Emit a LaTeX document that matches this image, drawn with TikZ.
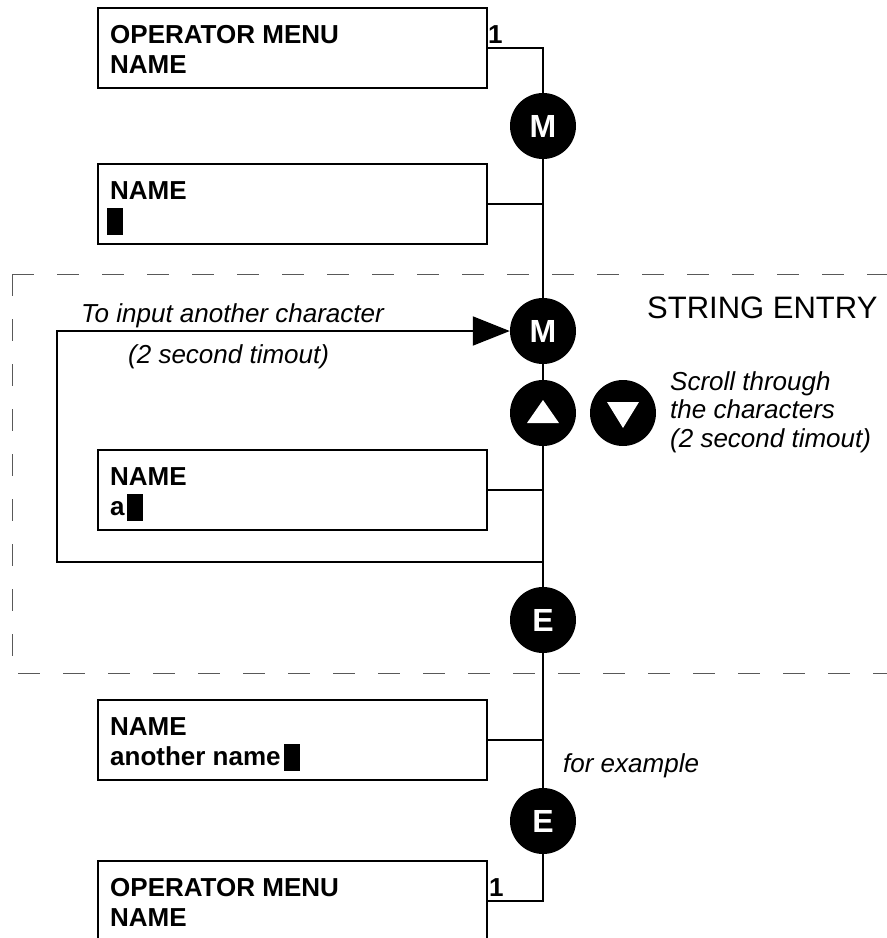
\documentclass[tikz,border=0pt]{standalone}
\usepackage{fontspec}
\setmainfont{Liberation Sans}
\usetikzlibrary{arrows.meta}
\newcommand{\cursorblk}{\rule[-6pt]{16pt}{27pt}}
\begin{document}
\begin{tikzpicture}[x=1pt,y=-1pt,
    lcd/.style={draw,line width=2pt,minimum width=389pt,minimum height=80pt,anchor=north west,inner sep=0pt},
    lcdtext/.style={anchor=base west,inner sep=0pt,font=\fontsize{26}{30}\selectfont\bfseries},
    key/.style={circle,fill=black,minimum size=66pt,inner sep=0pt,text=white,font=\fontsize{32}{32}\selectfont\bfseries},
    note/.style={anchor=base west,inner sep=0pt,font=\fontsize{26}{28}\selectfont\itshape},
    wire/.style={line width=2pt},
    frame/.style={line width=1pt,black!65,dash pattern=on 22pt off 23pt}]
  \useasboundingbox (0,0) rectangle (887,938);
  % string entry frame
  \draw[frame] (12,274) -- (900,274);
  \draw[frame] (12,274) -- (12,673) -- (900,673);
  \node[anchor=base west,inner sep=0pt,font=\fontsize{31}{31}\selectfont] (title) at (647,318) {STRING ENTRY};
  % displays
  \node[lcd] (menu1) at (97,7) {};
  \node[lcdtext] (menu1top) at (110,43) {OPERATOR MENU};
  \node[lcdtext] (menu1bot) at (110,73) {NAME};
  \node[lcdtext] (menu1num) at (488,43) {1};
  \node[lcd] (name0) at (97,163) {};
  \node[lcdtext] (name0top) at (110,199) {NAME};
  \node[lcdtext] (name0bot) at (107,229) {\cursorblk};
  \node[lcd] (namea) at (97,449) {};
  \node[lcdtext] (nameatop) at (110,485) {NAME};
  \node[lcdtext] (nameabot) at (110,515) {a\hspace{2pt}\cursorblk};
  \node[lcd] (namex) at (97,699) {};
  \node[lcdtext] (namextop) at (110,735) {NAME};
  \node[lcdtext] (namexbot) at (110,765) {another name\hspace{3pt}\cursorblk};
  \node[lcd] (menu2) at (97,860) {};
  \node[lcdtext] (menu2top) at (110,896) {OPERATOR MENU};
  \node[lcdtext] (menu2bot) at (110,926) {NAME};
  \node[lcdtext] (menu2num) at (489,896) {1};
  % keys
  \node[key] (m1) at (543,126) {M};
  \node[key] (m2) at (543,331) {M};
  \node[key] (up) at (543,413) {};
  \node[key] (down) at (623,413) {};
  \node[key] (e1) at (543,620) {E};
  \node[key] (e2) at (543,821) {E};
  \fill[white] (527,423) -- (559,423) -- (543,400) -- cycle;
  \fill[white] (607,402) -- (639,402) -- (623,428) -- cycle;
  % notes
  \node[note] (again) at (81,322) {To input another character};
  \node[note] (againtime) at (128,363) {(2 second timout)};
  \node[note] (scroll1) at (670,390) {Scroll through};
  \node[note] (scroll2) at (670,418) {the characters};
  \node[note] (scroll3) at (670,447) {(2 second timout)};
  \node[note] (example) at (563,772) {for example};
  % connections
  \coordinate (loopb) at (57,562);
  \coordinate (loopt) at (57,331);
  \draw[wire] (menu1.east) -| (m1.north);
  \draw[wire] (m1.south) -- (m2.north);
  \draw[wire] (name0.east) -- (name0.east -| m1.south);
  \draw[wire] (m2.south) -- (up.north);
  \draw[wire] (up.south) -- (e1.north);
  \draw[wire] (namea.east) -- (namea.east -| up.south);
  \draw[wire,-{Triangle[length=37pt,width=29pt]}] (e1.north |- loopb) -- (loopb) -- (loopt) -- (m2.west);
  \draw[wire] (e1.south) -- (e2.north);
  \draw[wire] (namex.east) -- (namex.east -| e1.south);
  \draw[wire] (e2.south) |- (menu2.east);
\end{tikzpicture}
\end{document}
